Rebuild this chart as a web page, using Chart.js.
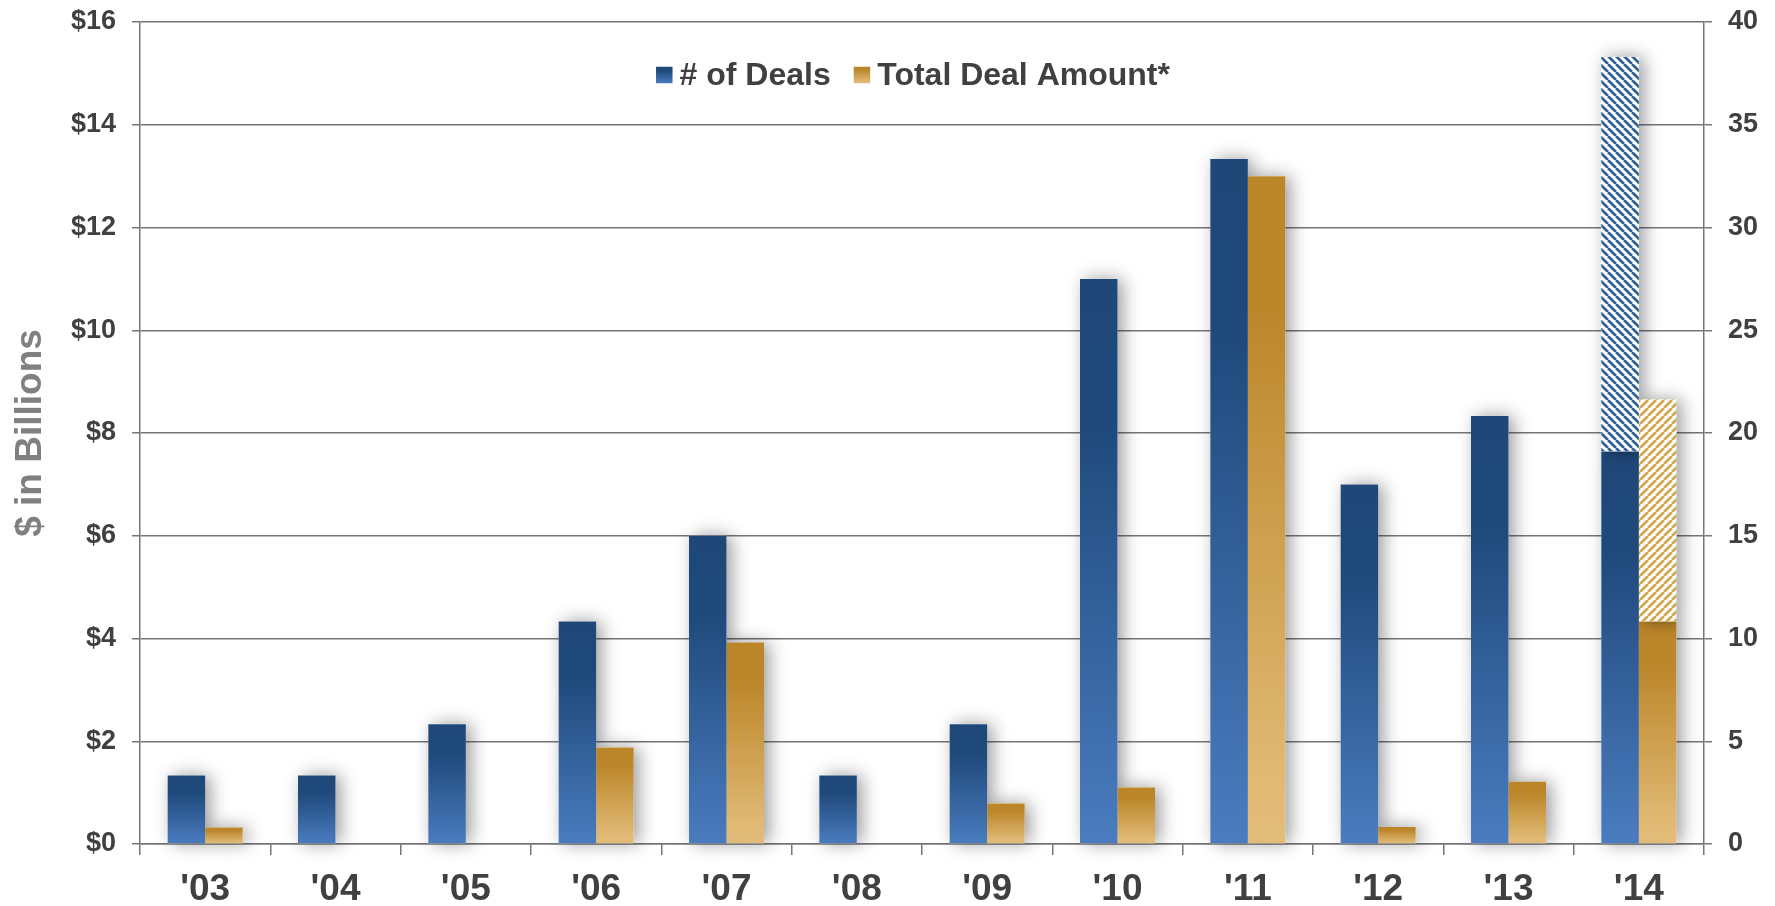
<!DOCTYPE html>
<html>
<head>
<meta charset="utf-8">
<title>Deals by year</title>
<script src="https://cdn.jsdelivr.net/npm/chart.js@4.4.1/dist/chart.umd.min.js"></script>
<style>
  html, body { margin: 0; padding: 0; background: #fff; }
  #wrap { width: 1775px; height: 906px; }
</style>
</head>
<body>
<div id="wrap"><canvas id="dealsChart" width="1775" height="906"></canvas></div>
<script>
// data
var years = ["'03", "'04", "'05", "'06", "'07", "'08", "'09", "'10", "'11", "'12", "'13", "'14"];
// # of deals, in right axis units
var dealCount = [3.33, 3.33, 5.83, 10.83, 15, 3.33, 5.83, 27.5, 33.33, 17.5, 20.83, 19.1];
var dealCountProjected = [null, null, null, null, null, null, null, null, null, null, null, 19.2];
// total deal amount, $ billions (left axis)
var dealAmount = [0.32, null, null, 1.88, 3.92, null, 0.79, 1.1, 13.0, 0.33, 1.21, 4.33];
var dealAmountProjected = [null, null, null, null, null, null, null, null, null, null, null, 4.32];
var amountTicks = [0, 2, 4, 6, 8, 10, 12, 14, 16];
var dealTicks = [0, 5, 10, 15, 20, 25, 30, 35, 40];

var fontFamily = '"Liberation Sans", Arial, Helvetica, sans-serif';
Chart.defaults.font.family = fontFamily;

var blueStops = [[0, '#1f4879'], [0.25, '#1f497b'], [1, '#4a7cbf']];
var goldStops = [[0, '#bb8629'], [0.2, '#bc872b'], [0.9, '#e0b974'], [1, '#e2bc79']];
var axisGrey = '#767676';

function barGradient(axisId, stops) {
  return function(context) {
    var chart = context.chart;
    if (context.type !== 'data' || !chart.chartArea || context.raw == null) return stops[0][1];
    var scale = chart.scales[axisId];
    var top = scale.getPixelForValue(context.raw);
    var bottom = scale.getPixelForValue(0);
    if (bottom - top < 1) return stops[0][1];
    var g = chart.ctx.createLinearGradient(0, top, 0, bottom);
    stops.forEach(function(s) { g.addColorStop(s[0], s[1]); });
    return g;
  };
}

function stripePattern(color, forward) {
  var size = 8;
  var c = document.createElement('canvas');
  c.width = size;
  c.height = size;
  var p = c.getContext('2d');
  p.fillStyle = '#ffffff';
  p.fillRect(0, 0, size, size);
  p.strokeStyle = color;
  p.lineWidth = 2.7;
  p.beginPath();
  for (var k = -size; k <= size; k += size) {
    if (forward) { p.moveTo(k, size); p.lineTo(k + size, 0); }
    else { p.moveTo(k, 0); p.lineTo(k + size, size); }
  }
  p.stroke();
  return p.createPattern(c, 'repeat');
}

function barRect(bar) {
  var p = bar.getProps(['x', 'y', 'base', 'width'], true);
  return { x: p.x - p.width / 2, y: p.y, w: p.width, h: p.base - p.y };
}

// soft shadow under every bar, drawn before the bars themselves
var barShadow = {
  id: 'barShadow',
  beforeDatasetsDraw: function(chart) {
    var ctx = chart.ctx;
    ctx.save();
    ctx.shadowColor = 'rgba(0,0,0,0.4)';
    ctx.shadowBlur = 18;
    ctx.shadowOffsetX = 5;
    ctx.fillStyle = '#ffffff';
    chart.data.datasets.forEach(function(ds, i) {
      chart.getDatasetMeta(i).data.forEach(function(bar, j) {
        if (ds.data[j] == null) return;
        var r = barRect(bar);
        ctx.fillRect(r.x, r.y, r.w, r.h);
      });
    });
    ctx.restore();
  },
  // the projected part also throws a shadow onto the solid bar under it
  afterDatasetsDraw: function(chart) {
    var ctx = chart.ctx;
    [[2, 0], [3, 1]].forEach(function(pair) {
      var upper = chart.data.datasets[pair[0]].data;
      upper.forEach(function(v, j) {
        if (v == null || chart.data.datasets[pair[1]].data[j] == null) return;
        var top = barRect(chart.getDatasetMeta(pair[0]).data[j]);
        var low = barRect(chart.getDatasetMeta(pair[1]).data[j]);
        ctx.save();
        ctx.beginPath();
        ctx.rect(low.x, low.y, low.w, low.h);
        ctx.clip();
        ctx.shadowColor = 'rgba(0,0,0,0.45)';
        ctx.shadowBlur = 16;
        ctx.shadowOffsetX = 4;
        ctx.fillStyle = '#ffffff';
        ctx.fillRect(top.x, top.y, top.w, top.h);
        ctx.restore();
      });
    });
  }
};

// legend sitting inside the plot, near the top
var topLegend = {
  id: 'topLegend',
  afterDraw: function(chart) {
    var ctx = chart.ctx;
    var items = [
      { text: chart.data.datasets[0].label, stops: blueStops },
      { text: chart.data.datasets[1].label, stops: goldStops }
    ];
    var box = 16.5, gap = 7, spacing = 23;
    ctx.save();
    ctx.font = 'bold 32px ' + fontFamily;
    ctx.textBaseline = 'middle';
    ctx.textAlign = 'left';
    var total = spacing;
    items.forEach(function(it) {
      it.w = ctx.measureText(it.text).width;
      total += box + gap + it.w;
    });
    var area = chart.chartArea;
    var x = (area.left + area.right) / 2 - 9 - total / 2;
    var cy = area.top + 53;
    items.forEach(function(it) {
      var g = ctx.createLinearGradient(0, cy - box / 2, 0, cy + box / 2);
      it.stops.forEach(function(s) { g.addColorStop(s[0], s[1]); });
      ctx.fillStyle = g;
      ctx.fillRect(x, cy - box / 2, box, box);
      x += box + gap;
      ctx.fillStyle = '#404040';
      ctx.fillText(it.text, x, cy + 1);
      x += it.w + spacing;
    });
    ctx.restore();
  }
};

var tickFont = { family: fontFamily, size: 27, weight: 'bold' };

function fixWidth(w) {
  return function(s) { s.width = w; s.paddingTop = 0; s.paddingBottom = 0; };
}

var ctx = document.getElementById('dealsChart').getContext('2d');
new Chart(ctx, {
  type: 'bar',
  data: {
    labels: years,
    datasets: [
      { label: '# of Deals', data: dealCount, yAxisID: 'yDeals', stack: 'deals',
        backgroundColor: barGradient('yDeals', blueStops) },
      { label: 'Total Deal Amount*', data: dealAmount, yAxisID: 'y', stack: 'amount',
        backgroundColor: barGradient('y', goldStops) },
      { label: '# of Deals (projected)', data: dealCountProjected, yAxisID: 'yDeals', stack: 'deals',
        backgroundColor: stripePattern('#30609a', false) },
      { label: 'Total Deal Amount* (projected)', data: dealAmountProjected, yAxisID: 'y', stack: 'amount',
        backgroundColor: stripePattern('#d5a54e', true) }
    ]
  },
  options: {
    responsive: false,
    animation: false,
    categoryPercentage: 0.5755,
    barPercentage: 1,
    layout: { padding: { top: 22, left: 0, right: 0, bottom: 0 } },
    plugins: {
      legend: { display: false },
      tooltip: { enabled: false }
    },
    scales: {
      x: {
        afterFit: function(s) { s.height = 62; s.paddingLeft = 0; s.paddingRight = 0; },
        grid: { offset: true, drawOnChartArea: false, color: axisGrey, lineWidth: 1.5, tickLength: 11 },
        border: { display: true, color: axisGrey, width: 1.5 },
        ticks: { padding: 13, color: '#404040', font: { family: fontFamily, size: 37, weight: 'bold' } }
      },
      y: {
        position: 'left',
        min: 0,
        max: 16,
        afterBuildTicks: function(axis) { axis.ticks = amountTicks.map(function(v) { return { value: v }; }); },
        afterFit: fixWidth(140),
        grid: { color: axisGrey, lineWidth: 1.5, tickLength: 8 },
        border: { display: true, color: axisGrey, width: 1.5 },
        ticks: { padding: 16, color: '#404040', font: tickFont, callback: function(v) { return '$' + v; } },
        title: {
          display: true,
          text: '$ in Billions',
          color: '#808080',
          font: { family: fontFamily, size: 37, weight: 'bold' },
          padding: { top: 9, bottom: 0 }
        }
      },
      yDeals: {
        position: 'right',
        min: 0,
        max: 40,
        afterBuildTicks: function(axis) { axis.ticks = dealTicks.map(function(v) { return { value: v }; }); },
        afterFit: fixWidth(71),
        grid: { drawOnChartArea: false, color: axisGrey, lineWidth: 1.5, tickLength: 8 },
        border: { display: true, color: axisGrey, width: 1.5 },
        ticks: { padding: 16, color: '#404040', font: tickFont }
      }
    }
  },
  plugins: [barShadow, topLegend]
});
</script>
</body>
</html>
